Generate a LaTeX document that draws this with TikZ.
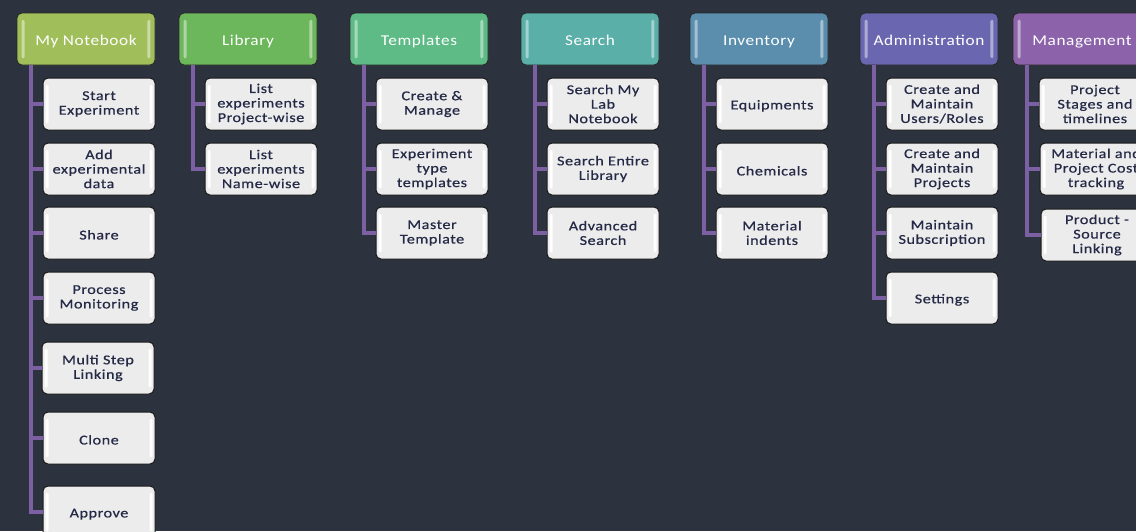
\documentclass[tikz,border=0pt]{standalone}
\usepackage{fontspec}
\setmainfont{Carlito}
\newfontfamily\hdrfont[FakeStretch=1.15,LetterSpace=4]{Carlito}
\newfontfamily\kidfont[FakeStretch=1.2,LetterSpace=4,FakeBold=0.6]{Carlito}
\usetikzlibrary{calc}
\definecolor{bg}{RGB}{45,51,62}
\definecolor{kidgray}{RGB}{236,236,236}
\definecolor{kidtext}{RGB}{36,42,70}
\definecolor{connpurple}{RGB}{125,95,163}
\definecolor{cA}{RGB}{160,190,90}
\definecolor{cB}{RGB}{108,182,92}
\definecolor{cC}{RGB}{94,187,134}
\definecolor{cD}{RGB}{90,175,168}
\definecolor{cE}{RGB}{91,141,173}
\definecolor{cF}{RGB}{106,102,176}
\definecolor{cG}{RGB}{140,99,170}
\tikzset{
 hdr/.style={draw=black!85, line width=0.8pt, rounded corners=5pt, minimum width=138pt, minimum height=52pt, inner sep=0pt, text height=14pt, text depth=2pt, text=white, font=\hdrfont\fontsize{15}{17}\selectfont},
 kid/.style={draw=black!90, line width=1pt, fill=kidgray, rounded corners=5pt, minimum width=112pt, minimum height=52pt, inner sep=0pt, align=center, text=kidtext, font=\kidfont\fontsize{13.5}{14.5}\selectfont, execute at begin node={\rule{0pt}{13pt}}},
 conn/.style={draw=connpurple, line width=4pt},
}
\newcommand\glossbox[3]{%
 \fill[white, opacity=#3, rounded corners=1.5pt] ($(#1.north west)+(#2,7)$) rectangle ($(#1.south west)+(#2+3,-7)$);
 \fill[white, opacity=#3, rounded corners=1.5pt] ($(#1.north east)+(-#2-3,7)$) rectangle ($(#1.south east)+(-#2,-7)$);
}
\begin{document}
\begin{tikzpicture}[x=1pt,y=-1pt]
\fill[bg] (0,0) rectangle (1136,531);
\useasboundingbox (0,0) rectangle (1136,531);
\clip (0,0) rectangle (1136,531);
% headers
\node[hdr, fill=cA] (h1) at (86,39) {My Notebook};
\node[hdr, fill=cB] (h2) at (248,39) {Library};
\node[hdr, fill=cC] (h3) at (419,39) {Templates};
\node[hdr, fill=cD] (h4) at (590,39) {Search};
\node[hdr, fill=cE] (h5) at (759,39) {Inventory};
\node[hdr, fill=cF] (h6) at (929,39) {Administration};
\node[hdr, fill=cG] (h7) at (1082,39) {Management};
\foreach \h in {h1,h2,h3,h4,h5,h6,h7} {\glossbox{\h}{5}{0.45}}
% column 1
\node[kid] (c11) at (99,104) {Start\\Experiment};
\node[kid] (c12) at (99,169) {Add\\experimental\\data};
\node[kid] (c13) at (99,233) {Share};
\node[kid] (c14) at (99,298) {Process\\Monitoring};
\node[kid] (c15) at (98,368) {Multi Step\\Linking};
\node[kid] (c16) at (99,438) {Clone};
\node[kid] (c17) at (99,512) {Approve};
% column 2
\node[kid] (c21) at (261,104) {List\\experiments\\Project-wise};
\node[kid] (c22) at (261,169) {List\\experiments\\Name-wise};
% column 3
\node[kid] (c31) at (432,104) {Create \&\\Manage};
\node[kid] (c32) at (432,169) {Experiment\\type\\templates};
\node[kid] (c33) at (432,233) {Master\\Template};
% column 4
\node[kid] (c41) at (603,104) {Search My\\Lab\\Notebook};
\node[kid] (c42) at (603,169) {Search Entire\\Library};
\node[kid] (c43) at (603,233) {Advanced\\Search};
% column 5
\node[kid] (c51) at (772,104) {Equipments};
\node[kid] (c52) at (772,169) {Chemicals};
\node[kid] (c53) at (772,233) {Material\\indents};
% column 6
\node[kid] (c61) at (942,104) {Create and\\Maintain\\Users/Roles};
\node[kid] (c62) at (942,169) {Create and\\Maintain\\Projects};
\node[kid] (c63) at (942,233) {Maintain\\Subscription};
\node[kid] (c64) at (942,298) {Settings};
% column 7
\node[kid] (c71) at (1095,104) {Project\\Stages and\\timelines};
\node[kid] (c72) at (1096,169) {Material and\\Project Cost\\tracking};
\node[kid] (c73) at (1097,235) {Product -\\Source\\Linking};
\foreach \c in {c11,c12,c13,c14,c15,c16,c17,c21,c22,c31,c32,c33,c41,c42,c43,c51,c52,c53,c61,c62,c63,c64,c71,c72,c73} {\glossbox{\c}{3}{0.95}}
% trunks
\coordinate (t1) at ($(h1.south west)+(14,0)$);
\coordinate (t2) at ($(h2.south west)+(14,0)$);
\coordinate (t3) at ($(h3.south west)+(14,0)$);
\coordinate (t4) at ($(h4.south west)+(14,0)$);
\coordinate (t5) at ($(h5.south west)+(14,0)$);
\coordinate (t6) at ($(h6.south west)+(14,0)$);
\coordinate (t7) at ($(h7.south west)+(14,0)$);
\draw[conn] (t1) |- (c17.west);
\foreach \c in {c11,c12,c13,c14,c15,c16} {\draw[conn] (t1 |- \c.west) -- (\c.west);}
\draw[conn] (t2) |- (c22.west);
\draw[conn] (t2 |- c21.west) -- (c21.west);
\draw[conn] (t3) |- (c33.west);
\foreach \c in {c31,c32} {\draw[conn] (t3 |- \c.west) -- (\c.west);}
\draw[conn] (t4) |- (c43.west);
\foreach \c in {c41,c42} {\draw[conn] (t4 |- \c.west) -- (\c.west);}
\draw[conn] (t5) |- (c53.west);
\foreach \c in {c51,c52} {\draw[conn] (t5 |- \c.west) -- (\c.west);}
\draw[conn] (t6) |- (c64.west);
\foreach \c in {c61,c62,c63} {\draw[conn] (t6 |- \c.west) -- (\c.west);}
\draw[conn] (t7) |- (c73.west);
\foreach \c in {c71,c72} {\draw[conn] (t7 |- \c.west) -- (\c.west);}
\end{tikzpicture}
\end{document}
